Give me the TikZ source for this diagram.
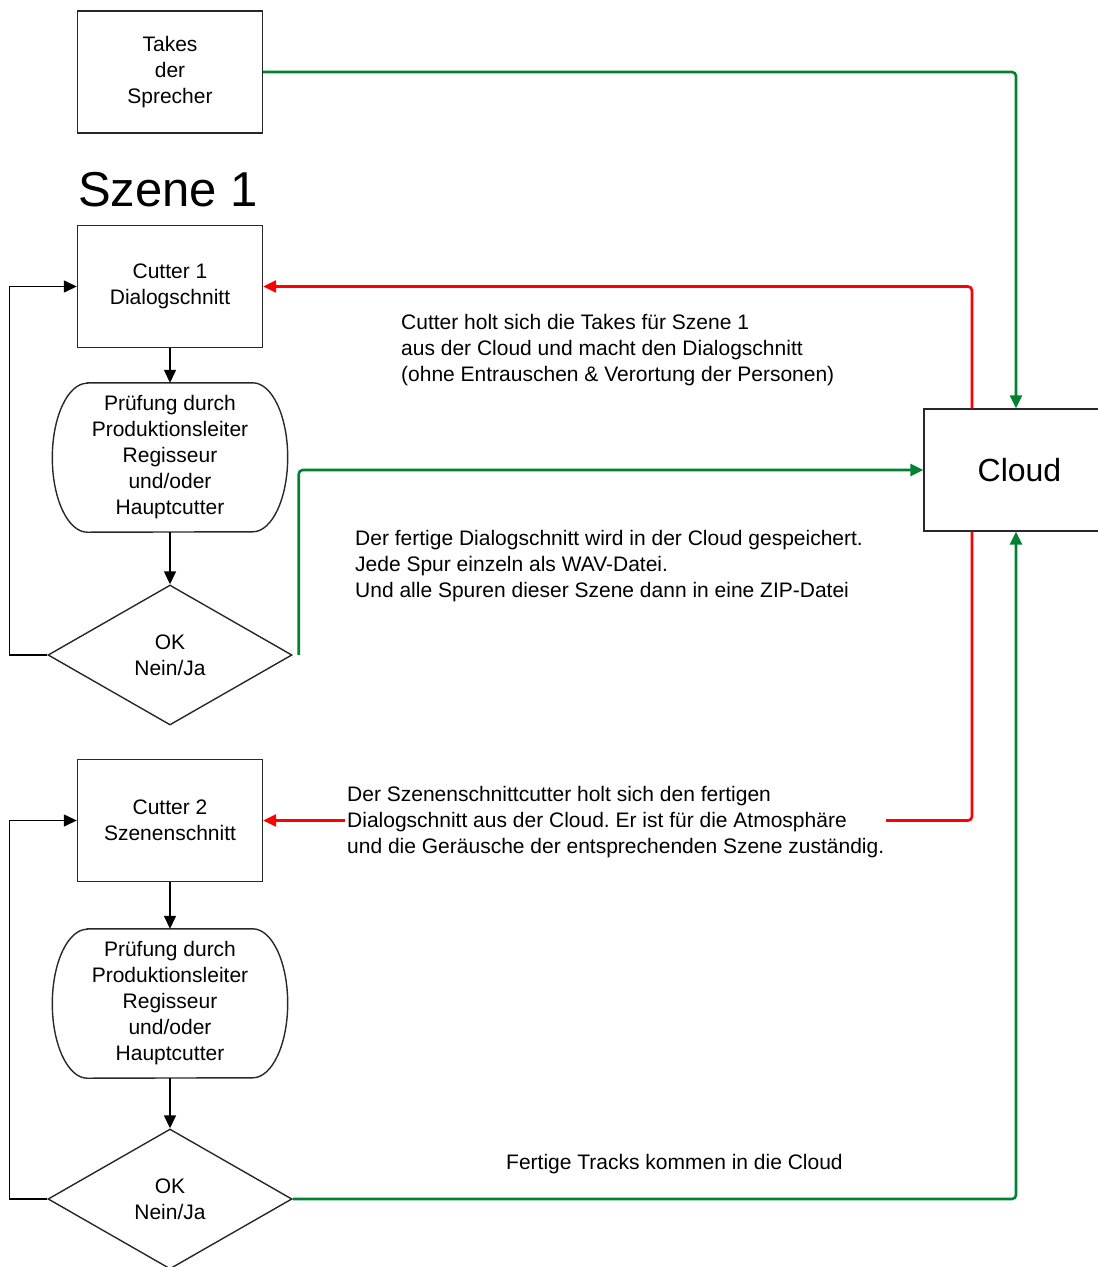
\documentclass[tikz,border=0pt]{standalone}
\usepackage{fontspec}
\setmainfont{Liberation Sans}
\usetikzlibrary{arrows.meta,shapes.geometric}
\definecolor{lgreen}{RGB}{0,130,50}
\definecolor{lred}{RGB}{255,0,0}
\definecolor{lborder}{RGB}{40,40,40}
\frenchspacing
\begin{document}
\begin{tikzpicture}[x=1pt,y=1pt,
  txt/.style={font=\fontsize{21}{26}\selectfont, inner sep=0pt},
  boxnode/.style={draw=lborder, line width=1.4pt, minimum width=185pt, minimum height=122pt, inner sep=0pt, align=center, font=\fontsize{21}{26}\selectfont},
  procnode/.style={minimum width=235pt, minimum height=149pt, inner sep=0pt, align=center, font=\fontsize{21}{26}\selectfont},
  decnode/.style={diamond, draw=lborder, line width=1.4pt, minimum width=244pt, minimum height=140pt, inner sep=0pt, align=center, font=\fontsize{21}{26}\selectfont},
  blackarrow/.style={draw=black, line width=1.4pt, -{Triangle[length=13pt,width=12pt]}},
  greenline/.style={draw=lgreen, line width=2.6pt, rounded corners=4pt, -{Triangle[length=13pt,width=12pt]}},
  redline/.style={draw=lred, line width=2.6pt, rounded corners=4pt, -{Triangle[length=13pt,width=12pt]}},
  proc/.style={draw=lborder, line width=1.4pt}
]
\useasboundingbox (0,-1267) rectangle (1098,0);
\clip (0,-1267) rectangle (1098,0);

% nodes
\node[boxnode] (takes) at (170,-72) {Takes\\der\\Sprecher};
\node[inner sep=0pt, font=\fontsize{49}{56}\selectfont] (szene) at (168,-190) {Szene 1};
\node[boxnode] (c1) at (170,-286.5) {Cutter 1\\Dialogschnitt};
\node[procnode] (p1) at (170,-457.5) {Prüfung durch\\Produktionsleiter\\Regisseur\\und/oder\\Hauptcutter};
\node[decnode] (d1) at (170,-655) {OK\\Nein/Ja};
\node[boxnode] (c2) at (170,-820.5) {Cutter 2\\Szenenschnitt};
\node[procnode] (p2) at (170,-1003.5) {Prüfung durch\\Produktionsleiter\\Regisseur\\und/oder\\Hauptcutter};
\node[decnode] (d2) at (170,-1199) {OK\\Nein/Ja};
\node[draw=lborder, line width=1.4pt, minimum width=191pt, minimum height=122pt, inner sep=0pt, font=\fontsize{32}{38}\selectfont] (cloud) at (1019.5,-470) {Cloud};

% process outlines
\foreach \p in {p1,p2}{
  \draw[proc] ([xshift=35pt]\p.north west) -- ([xshift=-35pt]\p.north east)
    arc[start angle=90,end angle=-90,x radius=35pt,y radius=74.5pt]
    -- ([xshift=35pt]\p.south west)
    arc[start angle=270,end angle=90,x radius=35pt,y radius=74.5pt] -- cycle;
}

% helper coordinates
\coordinate (rx) at (972,0);
\coordinate (gx) at (1016,0);
\coordinate (g1) at ([xshift=6pt]d1.east);

% black flow
\draw[blackarrow] (c1.south) -- (p1.north);
\draw[blackarrow] (p1.south) -- (d1.north);
\draw[blackarrow] (d1.west) -- ++(-38,0) |- (c1.west);
\draw[blackarrow] (c2.south) -- (p2.north);
\draw[blackarrow] (p2.south) -- (d2.north);
\draw[blackarrow] (d2.west) -- ++(-38,0) |- (c2.west);

% coloured connectors
\draw[greenline] (takes.east) -| (cloud.north -| gx);
\draw[redline] (cloud.north -| rx) |- (c1.east);
\draw[greenline] (g1) |- (cloud.west);
\draw[redline] (cloud.south -| rx) |- (c2.east);
\draw[greenline] (d2.east) -| (cloud.south -| gx);

% texts
\node[txt, anchor=west, align=left] (t1) at (401,-350) {Cutter holt sich die Takes für Szene 1\\aus der Cloud und macht den Dialogschnitt\\(ohne Entrauschen \& Verortung der Personen)};
\node[txt, anchor=west, align=left] (t2) at (355,-566) {Der fertige Dialogschnitt wird in der Cloud gespeichert.\\Jede Spur einzeln als WAV-Datei.\\Und alle Spuren dieser Szene dann in eine ZIP-Datei};
\node[txt, anchor=west, align=left, fill=white, inner xsep=2pt, inner ysep=0pt] (t3) at (345,-822) {Der Szenenschnittcutter holt sich den fertigen\\Dialogschnitt aus der Cloud. Er ist für die Atmosphäre\\und die Geräusche der entsprechenden Szene zuständig.};
\node[txt, anchor=west] (t4) at (506,-1164) {Fertige Tracks kommen in die Cloud};
\end{tikzpicture}
\end{document}
